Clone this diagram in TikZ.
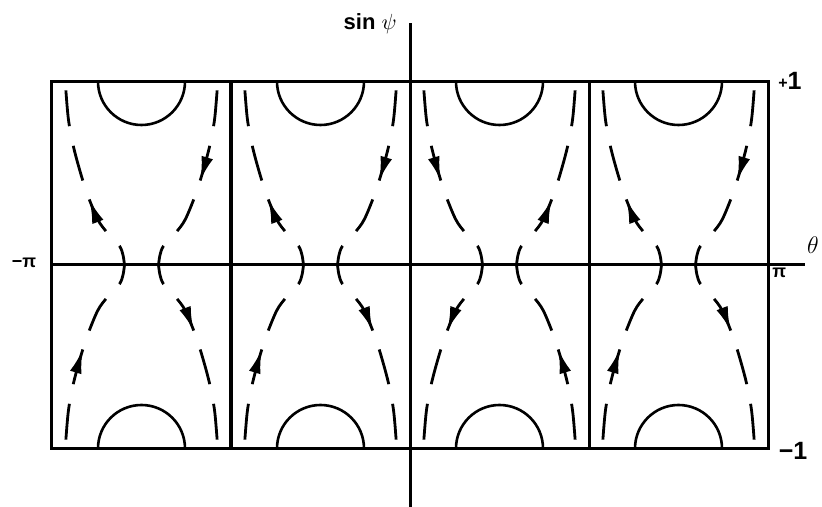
\documentclass[tikz,border=0pt]{standalone}
\usepackage{fontspec}
\setmainfont{Liberation Sans}
\usetikzlibrary{arrows.meta, decorations.markings}

\tikzset{
  frame/.style={line width=1.5pt},
  halfdisc/.style={line width=1.3pt},
  sepline/.style={line width=1.4pt, dash pattern=on 18pt off 10pt, dash phase=8pt},
  away/.style={postaction={decorate}, decoration={markings,
      mark=at position 38pt with {\arrow{Latex[length=12pt,width=6pt]}}}},
  toward/.style={postaction={decorate}, decoration={markings,
      mark=at position 48pt with {\arrowreversed{Latex[length=12pt,width=6pt]}}}},
  flow/.code={\ifnum#1<0 \tikzset{away}\else\tikzset{toward}\fi},
  lab/.style={font=\bfseries\fontsize{11}{13}\selectfont, inner sep=0pt}
}

\begin{document}
\begin{tikzpicture}[x=0.5pt, y=0.5pt]
    \useasboundingbox (-410,-242) rectangle (412,265);

    % Frame and axes
    \coordinate (sw) at (-358,-183.5);
    \coordinate (ne) at (358,183.5);
    \coordinate (xl) at (-358,0);
    \coordinate (xr) at (395,0);
    \coordinate (yb) at (0,-242);
    \coordinate (yt) at (0,242);
    \draw[frame] (sw) rectangle (ne);
    \draw[frame] (xl) -- (xr);
    \draw[frame] (yb) -- (yt);
    \foreach \x in {-179,179}
        \draw[frame] (\x,-183.5) -- (\x,183.5);

    % Cells: centre index / sense of the flow
    \foreach \k/\s in {-2/1, -1/1, 0/-1, 1/1} {
        \pgfmathsetmacro\cx{179*\k+89.5}
        \draw[halfdisc] ({\cx-43.5},183.5) arc[start angle=180, end angle=360, radius=43.5];
        \draw[halfdisc] ({\cx-43.5},-183.5) arc[start angle=180, end angle=0, radius=43.5];
        \foreach \xs in {-1,1}
            \foreach \ys in {-1,1} {
                \pgfmathtruncatemacro\d{\xs*\ys*\s}
                \draw[sepline, flow=\d, shift={(\cx,0)}, xscale=\xs, yscale=\ys]
                    plot[smooth] coordinates {(17,0) (18.5,10) (22,19) (34,32) (44,46)
                        (56,76) (67,114) (73,145) (76,180)};
            }
    }

    % Labels
    \node[lab, anchor=base east] (ylab) at (-13,235) {sin $\psi$};
    \node[inner sep=0pt, font=\fontsize{12}{14}\selectfont] (xlab) at (403,20) {$\theta$};
    \node[lab, font=\bfseries\fontsize{9}{11}\selectfont] (mpi) at (-386,2) {−π};
    \node[lab, font=\bfseries\fontsize{9}{11}\selectfont, anchor=north west] (ppi) at (362,-3) {π};
    \node[lab, font=\bfseries\fontsize{12.5}{14}\selectfont] (pone) at (380,184)
        {\raisebox{0.5pt}{\fontsize{8}{9}\selectfont +}1};
    \node[lab, font=\bfseries\fontsize{12.5}{14}\selectfont] (mone) at (383,-186) {−1};
\end{tikzpicture}
\end{document}
